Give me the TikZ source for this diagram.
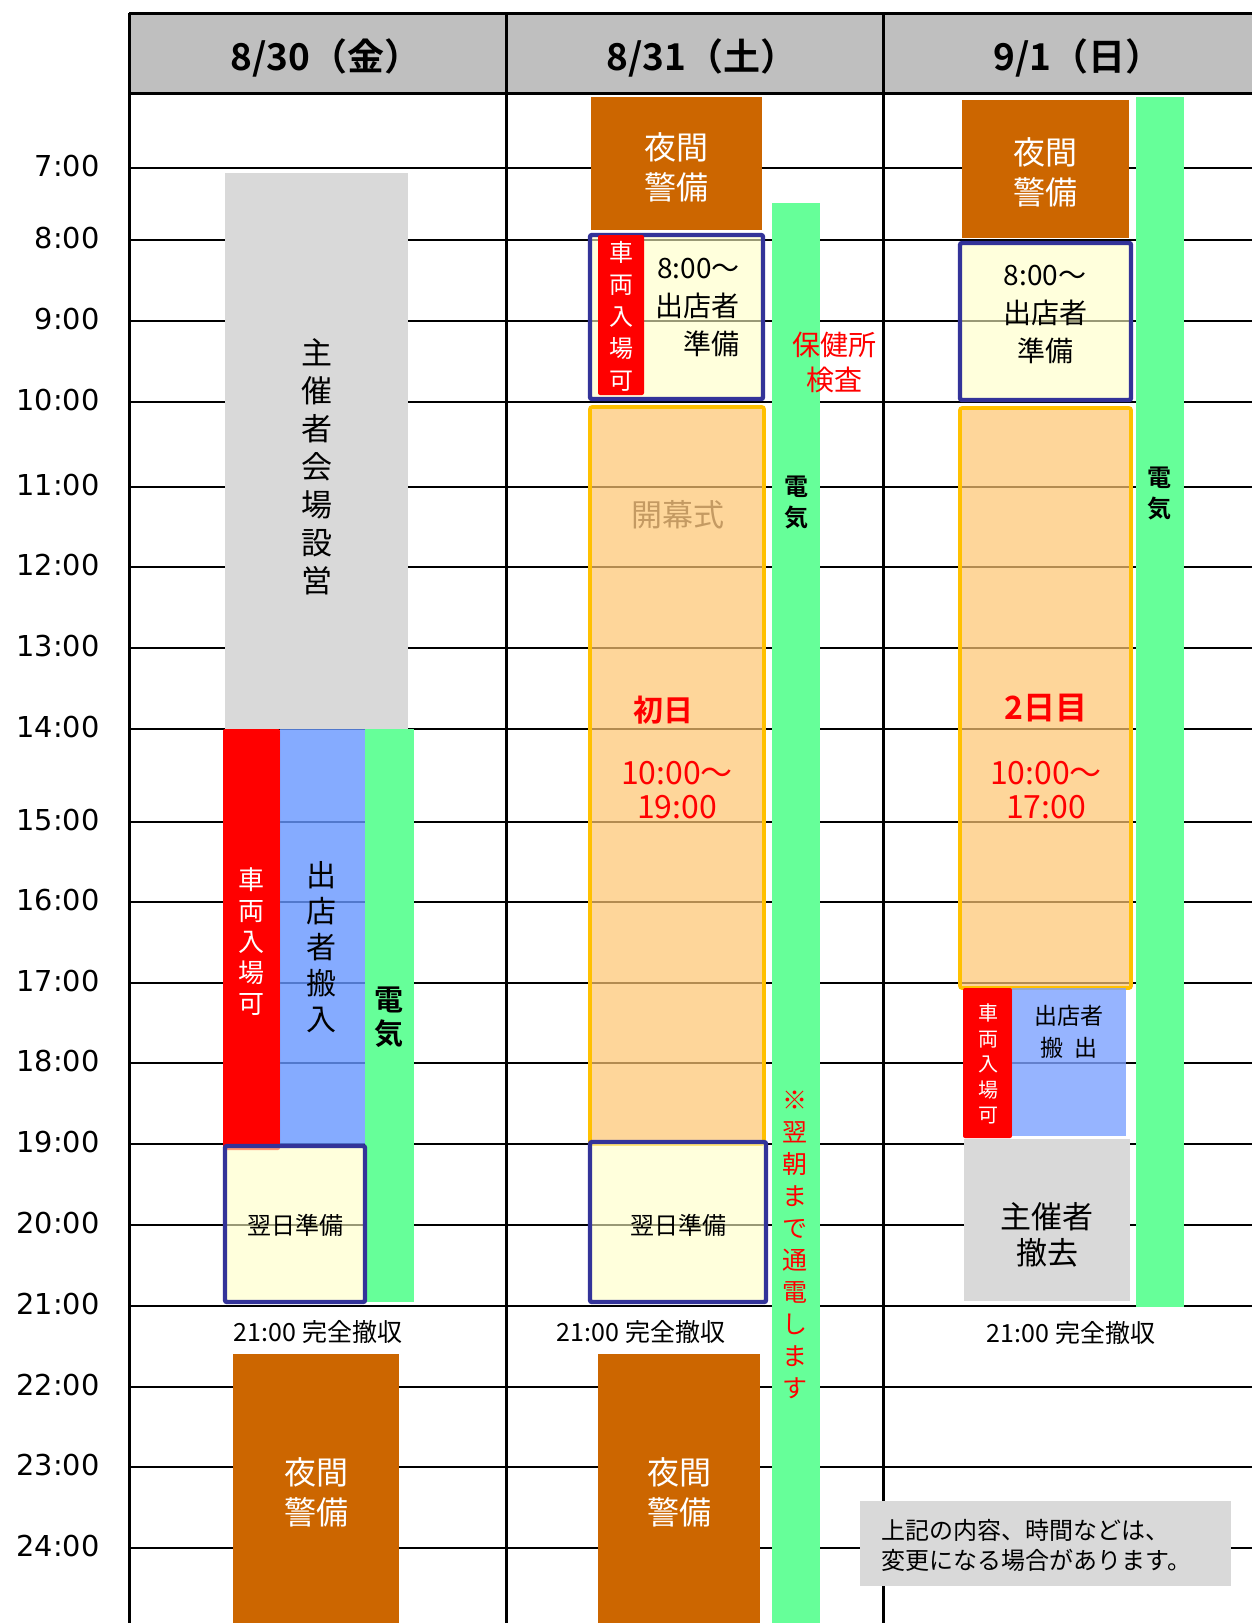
\documentclass[tikz,border=0pt]{standalone}
\usepackage{fontspec}
\setmainfont{Noto Sans CJK JP}[BoldFont={Noto Sans CJK JP Bold}]
\newfontfamily\clockfont{DejaVu Sans}
\usetikzlibrary{positioning}
\definecolor{headgray}{RGB}{191,191,191}
\definecolor{boxgray}{RGB}{217,217,217}
\definecolor{nightbrown}{RGB}{204,102,0}
\definecolor{elecgreen}{RGB}{102,255,153}
\definecolor{navyline}{RGB}{51,51,153}
\definecolor{goldline}{RGB}{255,192,0}
\definecolor{prepfill}{RGB}{255,255,197}
\definecolor{dayfill}{RGB}{253,197,113}
\definecolor{carryblue}{RGB}{102,150,255}
\definecolor{carryblueb}{RGB}{124,161,255}
\definecolor{ceremonytan}{RGB}{196,154,98}

\begin{document}
\begin{tikzpicture}[x=0.5pt,y=-0.5pt,
  hourline/.style={line width=1pt},
  colline/.style={line width=1.5pt},
  hourlabel/.style={anchor=east,inner sep=0pt,font=\clockfont\fontsize{14.4}{17}\selectfont},
  daytitle/.style={font=\bfseries\fontsize{18.5}{20}\selectfont},
  organiser/.style={fill=boxgray},
  night/.style={fill=nightbrown},
  nighttext/.style={text=white,align=center,font=\fontsize{16}{20}\selectfont},
  carentry/.style={fill=red,rounded corners=1pt},
  cartext/.style={text=white,align=center},
  carry/.style={fill=carryblue,fill opacity=.8},
  power/.style={fill=elecgreen},
  powertext/.style={align=center,font=\bfseries\fontsize{12}{15.5}\selectfont},
  prep/.style={fill=prepfill,fill opacity=.6,draw=navyline,draw opacity=1,line width=2.2pt,rounded corners=1pt},
  fairday/.style={fill=dayfill,fill opacity=.71,draw=goldline,draw opacity=1,line width=1.8pt,rounded corners=1pt},
  redtext/.style={text=red,align=center},
  closing/.style={font=\fontsize{12.5}{15}\selectfont},
  vert/.style={align=center,inner sep=0pt}
]
\useasboundingbox (0,0) rectangle (1252,1623);

% header and grid
\fill[headgray] (129,13) rectangle (1252,93);
\foreach \t/\y in {7/168,8/240,9/321,10/402,11/487,12/567,13/648,14/729,15/822,16/902,17/983,18/1063,19/1144,20/1225,21/1306,22/1387,23/1467,24/1548}{
  \draw[hourline] (129,\y) -- (1252,\y);
  \node[hourlabel] (h\t) at (100,{\y-2}) {\t:00};
}
\draw[colline] (129,13) -- (1252,13);
\draw[colline] (129,93) -- (1252,93);
\foreach \x in {129,506,883}
  \draw[colline] (\x,13) -- (\x,1623);
\node[daytitle] (fri) at (326,58) {8/30（金）};
\node[daytitle] (sat) at (702,58) {8/31（土）};
\node[daytitle] (sun) at (1078,58) {9/1（日）};

% 8/30
\fill[organiser] (225,173) rectangle (408,729);
\node[vert,font=\fontsize{15.5}{19}\selectfont] (setup) at (317,467) {主\\催\\者\\会\\場\\設\\営};
\fill[carentry] (223,729) rectangle (280,1150);
\node[vert,cartext,font=\fontsize{13}{15.5}\selectfont] (carfri) at (251.5,942) {車\\両\\入\\場\\可};
\fill[carry] (280,729) rectangle (365,1144);
\node[vert,font=\fontsize{15}{18}\selectfont] (movein) at (321,947) {出\\店\\者\\搬\\入};
\fill[power] (365,729) rectangle (414,1302);
\node[vert,powertext,font=\bfseries\fontsize{14.5}{17}\selectfont] (powfri) at (389,1017) {電\\気};
\draw[prep] (225,1146) rectangle (365,1302);
\node[font=\fontsize{12}{14}\selectfont] (nextfri) at (295,1225) {翌日準備};
\node[closing] (endfri) at (318,1332) {21:00 完全撤収};
\fill[night] (233,1354) rectangle (399,1623);
\node[nighttext] (guardfri) at (316,1492) {夜間\\警備};

% 8/31
\fill[night] (591,97) rectangle (762,230);
\node[nighttext] (guardsata) at (676,167) {夜間\\警備};
\fill[power] (772,203) rectangle (820,1623);
\node[vert,powertext] (powsat) at (796,502) {電\\気};
\node[vert,redtext,font=\fontsize{12.5}{16}\selectfont] (overnight) at (795,1245) {※\\翌\\朝\\ま\\で\\通\\電\\し\\ま\\す};
\draw[prep] (590,235) rectangle (763,399);
\fill[carentry] (598,235) rectangle (644,395);
\node[vert,cartext,font=\fontsize{12}{16}\selectfont] (carsat) at (621,316) {車\\両\\入\\場\\可};
\node[anchor=east,align=right,inner sep=0pt,font=\fontsize{14}{19}\selectfont] (readysat) at (740,307) {8:00～\\出店者\\準備};
\node[redtext,font=\fontsize{14}{17.5}\selectfont] (health) at (834,362) {保健所\\検査};
\draw[fairday] (590,407) rectangle (764,1144);
\node[text=ceremonytan,font=\fontsize{15.5}{18}\selectfont] (opening) at (678,515) {開幕式};
\node[redtext,font=\bfseries\fontsize{15}{18}\selectfont] (day1) at (663,710) {初日};
\node[redtext,font=\fontsize{16}{17}\selectfont] (hours1) at (677,790) {10:00～\\19:00};
\draw[prep] (590,1142) rectangle (766,1302);
\node[font=\fontsize{12}{14}\selectfont] (nextsat) at (678,1225) {翌日準備};
\node[closing] (endsat) at (641,1332) {21:00 完全撤収};
\fill[night] (598,1354) rectangle (760,1623);
\node[nighttext] (guardsatb) at (679,1492) {夜間\\警備};

% 9/1
\fill[night] (962,100) rectangle (1129,238);
\node[nighttext] (guardsun) at (1045,172) {夜間\\警備};
\fill[power] (1136,97) rectangle (1184,1307);
\node[vert,powertext] (powsun) at (1159,493) {電\\気};
\draw[prep] (960,243) rectangle (1131,400);
\node[align=center,font=\fontsize{14}{19}\selectfont] (readysun) at (1045,314) {8:00～\\出店者\\準備};
\draw[fairday] (960,408) rectangle (1131,988);
\node[redtext,font=\bfseries\fontsize{16}{18}\selectfont] (day2) at (1046,708) {2日目};
\node[redtext,font=\fontsize{16}{17}\selectfont] (hours2) at (1046,790) {10:00～\\17:00};
\fill[carentry] (963,988) rectangle (1012,1138);
\node[vert,cartext,font=\fontsize{10}{12.75}\selectfont] (carsun) at (988,1064) {車\\両\\入\\場\\可};
\fill[carry,fill=carryblueb] (1012,988) rectangle (1126,1136);
\node[align=center,font=\fontsize{11.5}{16}\selectfont] (moveout) at (1069,1032) {出店者\\搬\enspace 出};
\fill[organiser] (964,1139) rectangle (1130,1301);
\node[align=center,font=\fontsize{15.5}{18}\selectfont] (teardown) at (1047,1235) {主催者\\撤去};
\node[closing] (endsun) at (1071,1333) {21:00 完全撤収};
\fill[organiser] (860,1501) rectangle (1231,1586);
\node[anchor=west,align=left,inner sep=0pt,font=\fontsize{12}{15}\selectfont] (notice) at (881,1545) {上記の内容、時間などは、\\変更になる場合があります。};
\end{tikzpicture}
\end{document}
